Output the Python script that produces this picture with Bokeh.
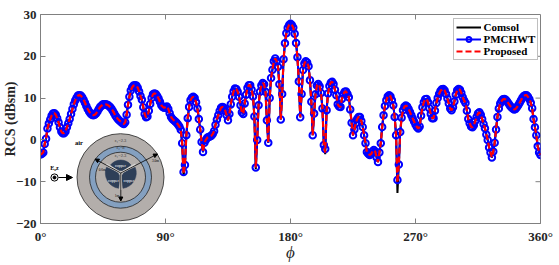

import math
from bokeh.plotting import figure
from bokeh.embed import file_html
from bokeh.resources import INLINE
from bokeh.core.properties import value
from bokeh.models import (FixedTicker, Legend, LegendItem, Arrow, NormalHead, Range1d)

phi = list(range(0, 361))
pmchwt = [
 -3.5,-3.3,-3.0,-1.0,0.3,2.7,3.9,4.9,5.8,6.3,6.4,6.0,5.2,4.2,3.0,2.0,1.6,1.6,2.0,3.0,
 4.0,5.0,6.2,7.4,8.5,9.4,10.1,10.6,10.7,10.6,10.2,9.6,8.9,8.1,7.4,6.8,6.3,6.0,5.9,6.0,
 6.3,6.8,7.4,7.9,8.2,8.5,8.5,8.5,8.4,8.2,7.9,7.5,7.0,6.4,5.8,5.3,4.9,4.6,4.3,4.0,
 3.8,4.2,6.0,8.4,10.3,11.8,12.6,13.0,13.1,13.0,12.5,11.6,10.5,9.6,7.8,6.2,5.4,5.6,7.0,8.6,
 10.0,10.9,11.1,11.0,10.5,9.9,9.1,8.3,7.9,7.7,7.8,8.0,7.4,6.4,5.5,5.0,4.7,4.4,4.1,3.7,
 3.2,2.4,-0.8,-7.7,-6.0,1.1,5.2,7.9,9.5,10.1,10.3,10.0,9.0,7.5,5.0,2.5,-0.5,-2.9,-0.7,0.0,
 0.5,0.7,0.8,1.0,1.4,2.1,3.6,4.9,5.9,6.9,7.7,7.9,7.7,7.0,5.9,4.7,6.2,8.5,10.3,11.6,
 12.3,12.2,11.5,10.3,8.3,6.6,6.2,8.7,10.8,12.4,13.1,13.1,12.0,10.4,5.6,-6.6,0.0,8.3,11.5,13.0,
 13.6,13.3,11.5,4.7,-0.7,10.0,14.8,16.8,18.8,19.5,18.8,17.5,13.3,4.9,11.0,19.3,23.1,25.5,26.8,27.5,
 27.8,27.5,26.9,25.4,23.2,19.8,14.0,5.4,11.0,16.7,18.3,18.8,18.5,17.6,14.3,9.1,1.1,6.3,10.9,13.0,
 13.4,12.8,11.2,7.5,-1.2,-2.2,7.1,11.1,12.9,13.7,13.9,13.4,12.0,10.7,8.5,8.0,7.9,9.8,10.9,11.5,
 11.6,11.0,10.2,7.3,4.1,1.1,2.5,4.0,5.0,5.5,5.5,4.5,3.1,1.1,-0.8,-2.9,-3.3,-3.6,-3.4,-2.8,
 -2.4,-2.8,-4.2,-5.3,-3.0,-0.8,3.1,5.9,8.1,9.5,10.4,10.7,10.4,9.5,8.3,5.5,1.1,-9.6,-5.9,1.9,
 5.3,7.1,7.9,8.2,8.0,7.4,6.7,5.9,5.1,4.4,3.7,3.1,2.7,3.2,5.8,7.8,9.0,9.7,9.8,9.0,
 7.6,6.2,5.2,5.2,7.0,8.8,10.0,11.0,11.7,12.1,12.2,11.8,11.0,9.9,8.7,7.5,7.1,7.8,9.2,10.8,
 11.9,12.2,12.0,11.2,10.2,9.4,8.8,7.0,5.0,4.0,3.2,3.0,3.5,4.5,5.5,6.3,6.6,6.0,5.0,3.8,
 2.8,1.3,0.0,-1.8,-3.0,-4.2,-2.8,-0.7,2.5,5.5,7.5,8.7,9.3,9.7,9.8,9.6,9.2,8.7,8.2,7.8,
 7.5,7.3,7.4,7.8,8.3,8.9,9.5,10.1,10.5,10.7,10.7,10.3,9.7,8.9,7.6,5.0,3.0,1.1,-1.5,-3.0,-3.6,
]
# The reference solutions follow the same curve apart from a few deeper nulls.
comsol_nulls = {103: -8.6, 155: -7.0, 205: -3.4, 257: -12.7}
proposed_nulls = {103: -8.2, 205: -3.0, 257: -10.2}
comsol = [comsol_nulls.get(a, v) for a, v in zip(phi, pmchwt)]
proposed = [proposed_nulls.get(a, v) for a, v in zip(phi, pmchwt)]

x_ticks = [0, 90, 180, 270, 360]
x_labels = ["0°", "90°", "180°", "270°", "360°"]
y_ticks = [-20, -10, 0, 10, 20, 30]

SERIF = "Liberation Serif"
AXIS = "#808080"
TXT = "#262626"

p = figure(width=559, height=265, output_backend="svg", toolbar_location=None,
           x_range=Range1d(0, 360), y_range=Range1d(-20, 30),
           min_border_left=40, min_border_right=19, min_border_top=14, min_border_bottom=42,
           background_fill_color="white", border_fill_color="white")
p.grid.visible = False
p.outline_line_color = AXIS
p.outline_line_width = 1


def style(ax, ticks):
    ax.ticker = FixedTicker(ticks=ticks)
    ax.axis_line_color = AXIS
    ax.major_tick_line_color = AXIS
    ax.major_tick_in = 5
    ax.major_tick_out = 0
    ax.minor_tick_line_color = None
    ax.major_label_text_font = SERIF
    ax.major_label_text_font_style = "bold"
    ax.major_label_text_font_size = "13px"
    ax.major_label_text_color = TXT


xa = p.xaxis[0]
ya = p.yaxis[0]
style(xa, x_ticks)
style(ya, y_ticks)
xa.major_label_overrides = dict(zip(x_ticks, x_labels))
xa.major_label_standoff = 5
ya.major_label_standoff = 4
xa.axis_label = "ϕ"
xa.axis_label_text_font = SERIF
xa.axis_label_text_font_style = "italic"
xa.axis_label_text_font_size = "17px"
xa.axis_label_text_color = TXT
xa.axis_label_standoff = -4
ya.axis_label = "RCS (dBsm)"
ya.axis_label_text_font = SERIF
ya.axis_label_text_font_style = "bold"
ya.axis_label_text_font_size = "14px"
ya.axis_label_text_color = TXT
ya.axis_label_standoff = -5

# opposite-side ticks of the box
PX_X, PX_Y = 360 / 500, 50 / 209
p.segment(x_ticks[1:-1], [30] * 3, x_ticks[1:-1], [30 - 5 * PX_Y] * 3, line_color=AXIS, line_width=1)
p.segment([360] * 4, y_ticks[1:-1], [360 - 5 * PX_X] * 4, y_ticks[1:-1], line_color=AXIS, line_width=1)

r_c = p.line(phi, comsol, line_color="black", line_width=2)
r_l = p.line(phi, pmchwt, line_color="#0000ff", line_width=2)
r_m = p.scatter(phi, pmchwt, marker="circle", size=6.5, line_color="#0000ff",
                line_width=2, fill_color=None)
r_p = p.line(phi, proposed, line_color="#ff0000", line_width=2.2, line_dash="6 3")

legend = Legend(items=[LegendItem(label="Comsol", renderers=[r_c]),
                       LegendItem(label="PMCHWT", renderers=[r_l, r_m]),
                       LegendItem(label="Proposed", renderers=[r_p])],
                location=(412.5, 163.5), orientation="vertical",
                label_text_font=SERIF, label_text_font_style="bold",
                label_text_font_size="11px", label_text_color="black",
                glyph_width=25, glyph_height=12, label_height=12, label_standoff=3,
                padding=2, spacing=0, margin=0,
                border_line_color=AXIS, border_line_width=1.5,
                background_fill_color="white", background_fill_alpha=1)
p.add_layout(legend)


# ---- geometry inset (page pixels -> data coordinates) ----
def sx(px):
    return (px - 40) / (500 / 360)


def sy(py):
    return 30 - (py - 14) / (209 / 50)


CX, CY = sx(120), sy(176.7)
YX, YY = sx(120.3), sy(172.5)
for rad, col in ((43.5, "#b3aeab"), (31, "#84a0c0"), (25, "#b3aeab")):
    p.circle([CX], [CY], radius=rad, radius_units="screen", fill_color=col,
             line_color="#222222", line_width=0.8)
for mid, outer in ((90, 13), (210, 15.5), (330, 15.5)):
    p.annular_wedge([YX], [YY], inner_radius=2.5, outer_radius=outer,
                    inner_radius_units="screen", outer_radius_units="screen",
                    start_angle=math.radians(mid - 52), end_angle=math.radians(mid + 52),
                    fill_color="#2e3f58", line_color="#2e3f58", line_width=0.5)
# pale spokes between the three conductors
for ang in (30, 150, 270):
    p.segment([YX], [YY], [sx(120.3 + 17 * math.cos(math.radians(ang)))],
              [sy(172.5 - 17 * math.sin(math.radians(ang)))],
              line_color="#d8d6d4", line_width=2.2)


def arrow(x0, y0, x1, y1, size=4, width=0.8):
    p.add_layout(Arrow(end=NormalHead(size=size, fill_color="black", line_color="black"),
                       x_start=sx(x0), y_start=sy(y0), x_end=sx(x1), y_end=sy(y1),
                       line_color="black", line_width=width))


arrow(120.3, 172.5, 120.3, 200.5)
arrow(120.3, 172.5, 94.5, 158.5)
arrow(120.3, 172.5, 157, 153.5)
arrow(58, 177, 72, 177, size=6, width=1)

p.circle([sx(54)], [sy(177)], radius=3.6, radius_units="screen", fill_color="white",
         line_color="black", line_width=1)
p.circle([sx(54)], [sy(177)], radius=1.5, radius_units="screen", fill_color="black",
         line_color="black")

inset_text = [("air", 78.5, 142, 6.5, "black", "bold"),
              ("E₀z", 54, 167, 6, "black", "bold"),
              ("ε₁=2.3", 120, 140, 4.5, "#333333", "normal"),
              ("ε₂=8", 120, 147.3, 4.5, "#333333", "normal"),
              ("ε₁=2.3", 120, 155, 4.5, "#333333", "normal"),
              ("copper", 120, 165, 4, "white", "normal"),
              ("copper", 113, 180, 4, "white", "normal"),
              ("copper", 128.5, 180, 4, "white", "normal"),
              ("3.0m", 155, 160.7, 3.5, "black", "normal"),
              ("0.6m", 101.7, 169, 3.5, "black", "normal"),
              ("1m", 116.5, 195, 3.5, "black", "normal")]
for t, px, py, fs, col, st in inset_text:
    p.text([sx(px)], [sy(py)], text=[t], text_font=value(SERIF), text_font_size=f"{fs}px",
           text_color=col, text_font_style=st, text_align="center", text_baseline="middle")

open("out.html", "w").write(file_html(p, INLINE))
